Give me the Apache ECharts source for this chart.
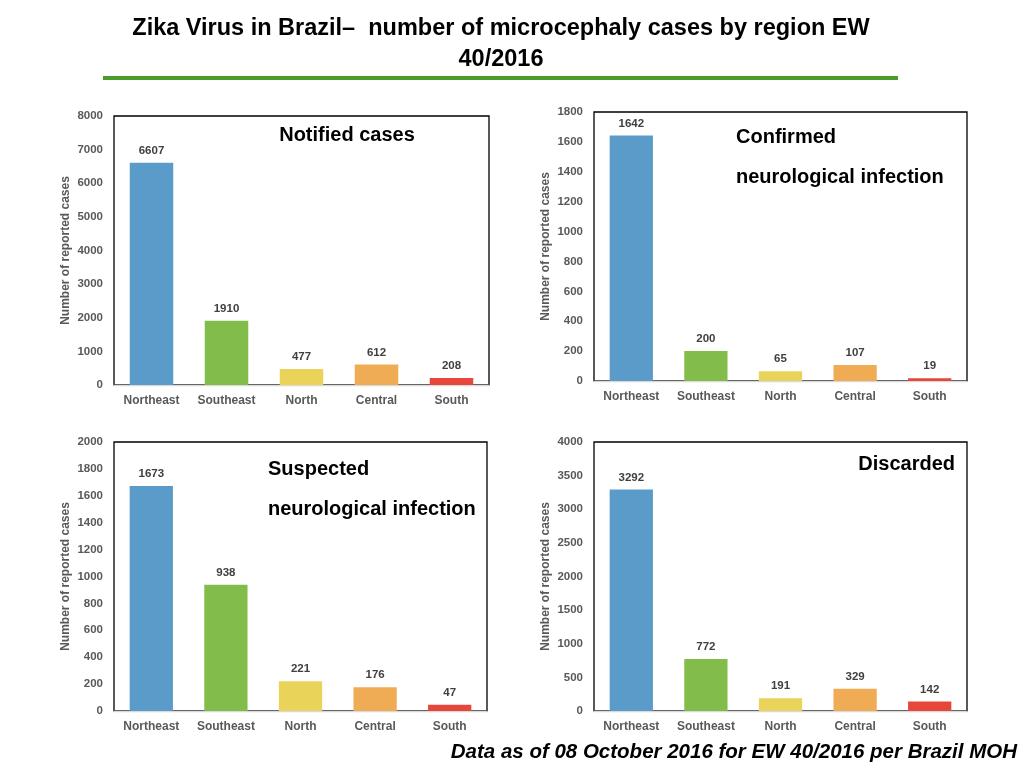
<!DOCTYPE html>
<html><head><meta charset="utf-8">
<script src="https://cdn.jsdelivr.net/npm/echarts@6/dist/echarts.min.js"></script>
<style>html,body{margin:0;padding:0;background:#fff}#c{width:1024px;height:768px}</style>
</head><body><div id="c"></div>
<script>
const regions = ['Northeast','Southeast','North','Central','South'];
const barColors = ['#5B9BC9','#82BD4B','#E9D359','#F0AB55','#E7463A'];
const notified = [6607,1910,477,612,208];
const confirmed = [1642,200,65,107,19];
const suspected = [1673,938,221,176,47];
const discarded = [3292,772,191,329,142];
const yMax = [8000,1800,2000,4000];
const yStep = [1000,200,200,500];
const panelData = [notified, confirmed, suspected, discarded];

const grids = [
  {left:114, top:116, width:375, height:269},
  {left:594, top:112, width:373, height:269},
  {left:114, top:442, width:373, height:269},
  {left:594, top:442, width:373, height:269}
];
const font = 'Liberation Sans, Arial, sans-serif';
const chart = echarts.init(document.getElementById('c'));
const option = {
  animation:false,
  backgroundColor:'#fff',
  grid: grids.map(g => Object.assign({show:true, borderColor:'#000', borderWidth:1.3, backgroundColor:'transparent'}, g)),
  xAxis: grids.map((g,i) => ({
    type:'category', gridIndex:i, data:regions,
    axisLine:{lineStyle:{color:'#d9d9d9', width:1.3}},
    axisTick:{show:false},
    axisLabel:{interval:0, hideOverlap:false, color:'#595959', fontWeight:'bold', fontSize:12, fontFamily:font, margin:10}
  })),
  yAxis: grids.map((g,i) => ({
    type:'value', gridIndex:i, min:0, max:yMax[i], interval:yStep[i],
    splitLine:{show:false}, axisLine:{show:false}, axisTick:{show:false},
    axisLabel:{color:'#595959', fontWeight:'bold', fontSize:11.5, fontFamily:font, margin:11, formatter: v => String(v)},
    name:'Number of reported cases', nameLocation:'middle', nameGap:42,
    nameTextStyle:{color:'#595959', fontWeight:'bold', fontSize:12, fontFamily:font}
  })),
  series: panelData.map((d,i) => ({
    type:'bar', xAxisIndex:i, yAxisIndex:i, barWidth:'58%',
    data: d.map((v,j) => ({value:v, itemStyle:{color:barColors[j]}})),
    label:{show:true, position:'top', distance:6, color:'#404040', fontWeight:'bold', fontSize:11.5, fontFamily:font}
  })),
  title: [
    {text:'Zika Virus in Brazil–  number of microcephaly cases by region EW\n40/2016', left:501, top:13, textAlign:'center', padding:0,
     textStyle:{fontSize:23.5, fontWeight:'bold', color:'#000', fontFamily:font, lineHeight:31}},
    {text:'Notified cases', left:347, top:125, textAlign:'center', padding:0,
     textStyle:{fontSize:20, fontWeight:'bold', color:'#000', fontFamily:font, lineHeight:20}},
    {text:'Confirmed\n\nneurological infection', left:736, top:127, padding:0,
     textStyle:{fontSize:20, fontWeight:'bold', color:'#000', fontFamily:font, lineHeight:20}},
    {text:'Suspected\n\nneurological infection', left:268, top:459, padding:0,
     textStyle:{fontSize:20, fontWeight:'bold', color:'#000', fontFamily:font, lineHeight:20}},
    {text:'Discarded', right:69, top:454, padding:0,
     textStyle:{fontSize:20, fontWeight:'bold', color:'#000', fontFamily:font, lineHeight:20}},
    {text:'Data as of 08 October 2016 for EW 40/2016 per Brazil MOH', right:7, top:742, padding:0,
     textStyle:{fontSize:20.5, fontWeight:'bold', fontStyle:'italic', color:'#000', fontFamily:font, lineHeight:20}}
  ],
  graphic: [
    {type:'rect', shape:{x:103, y:76, width:795, height:4}, style:{fill:'#4C9B2B'}}
  ]
};
chart.setOption(option);
</script></body></html>
